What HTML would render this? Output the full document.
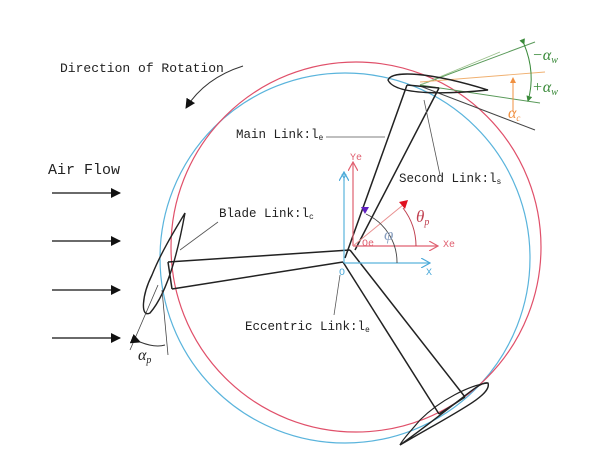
<!DOCTYPE html>
<html><head><style>
html,body{margin:0;padding:0;background:#fff;}
svg{display:block;}
text{font-family:"Liberation Mono",monospace;font-size:12.5px;fill:#222;}
</style></head><body>
<svg width="607" height="461" viewBox="0 0 607 461" xmlns="http://www.w3.org/2000/svg">
<defs>
<marker id="ab" markerWidth="10" markerHeight="10" refX="9" refY="5" orient="auto" markerUnits="userSpaceOnUse"><path d="M0,0 L10,5 L0,10 z" fill="#111"/></marker>
<marker id="ob" markerWidth="10" markerHeight="10" refX="9" refY="5" orient="auto" markerUnits="userSpaceOnUse"><path d="M0,0 L9,5 L0,10" fill="none" stroke="#4aa8d8" stroke-width="1.2"/></marker>
<marker id="or" markerWidth="10" markerHeight="10" refX="9" refY="5" orient="auto" markerUnits="userSpaceOnUse"><path d="M0,0 L9,5 L0,10" fill="none" stroke="#e06070" stroke-width="1.2"/></marker>
<marker id="ag" markerWidth="6" markerHeight="6" refX="5" refY="3" orient="auto" markerUnits="userSpaceOnUse"><path d="M0,0 L6,3 L0,6 z" fill="#3a8a3a"/></marker>
<marker id="ao" markerWidth="6" markerHeight="6" refX="5" refY="3" orient="auto" markerUnits="userSpaceOnUse"><path d="M0,0 L6,3 L0,6 z" fill="#f09040"/></marker>
</defs>
<circle cx="345" cy="258" r="185" fill="none" stroke="#5ab4dc" stroke-width="1.2"/>
<circle cx="356" cy="247" r="185" fill="none" stroke="#e0506a" stroke-width="1.2"/>

<path d="M243,66 Q205,78 186,108" fill="none" stroke="#333" stroke-width="1" marker-end="url(#ab)"/>
<text x="60" y="72" style="font-size:13px">Direction of Rotation</text>
<text x="48" y="174" style="font-size:15px">Air Flow</text>
<line x1="52" y1="193" x2="120" y2="193" stroke="#111" stroke-width="1.3" marker-end="url(#ab)"/>
<line x1="52" y1="241" x2="120" y2="241" stroke="#111" stroke-width="1.3" marker-end="url(#ab)"/>
<line x1="52" y1="290" x2="120" y2="290" stroke="#111" stroke-width="1.3" marker-end="url(#ab)"/>
<line x1="52" y1="338" x2="120" y2="338" stroke="#111" stroke-width="1.3" marker-end="url(#ab)"/>

<line x1="420" y1="85" x2="535" y2="42" stroke="#5a9a5a" stroke-width="1"/>
<line x1="420" y1="85" x2="500" y2="52" stroke="#9ac08a" stroke-width="0.8"/>
<line x1="420" y1="85" x2="540" y2="103" stroke="#5a9a5a" stroke-width="1"/>
<line x1="420" y1="82" x2="545" y2="72" stroke="#f0b070" stroke-width="0.9"/>
<line x1="420" y1="86" x2="535" y2="130" stroke="#444" stroke-width="1"/>
<path d="M524,44 Q536,73 528,101" fill="none" stroke="#3a8a3a" stroke-width="1" marker-start="url(#ag)" marker-end="url(#ag)"/>
<line x1="513" y1="112" x2="513" y2="78" stroke="#f09040" stroke-width="1" marker-end="url(#ao)"/>
<text x="532" y="60" style="fill:#3a8a3a;font-family:'Liberation Serif',serif;font-size:16px;font-style:italic">−α<tspan style="font-size:10px" dy="3">w</tspan></text>
<text x="532" y="92" style="fill:#3a8a3a;font-family:'Liberation Serif',serif;font-size:16px;font-style:italic">+α<tspan style="font-size:10px" dy="3">w</tspan></text>
<text x="508" y="118" style="fill:#f09040;font-family:'Liberation Serif',serif;font-size:16px;font-style:italic">α<tspan style="font-size:9px" dy="3">c</tspan></text>
<path d="M388,80 C392,70 430,72 488,90 C450,94 395,96 388,80 Z" fill="none" stroke="#222" stroke-width="1.4"/>

<path d="M185,213 C180,240 170,290 150,313 C140,318 142,295 152,275 C162,250 178,225 185,213 Z" fill="none" stroke="#222" stroke-width="1.4"/>
<line x1="158" y1="285" x2="130" y2="350" stroke="#444" stroke-width="0.8"/>
<line x1="162" y1="290" x2="168" y2="355" stroke="#444" stroke-width="0.8"/>
<path d="M140,342 Q155,348 165,345" fill="none" stroke="#333" stroke-width="1" marker-start="url(#ab)"/>
<text x="138" y="360" style="font-family:'Liberation Serif',serif;font-size:16px;font-style:italic">α<tspan style="font-size:10px" dy="3">p</tspan></text>

<path d="M488,383 C492,395 460,410 400,445 C460,402 480,380 488,383 Z" fill="none" stroke="#222" stroke-width="1.4"/>
<path d="M488,383 C470,385 440,400 420,420 C410,432 402,440 400,445" fill="none" stroke="#222" stroke-width="1.2"/>

<g stroke="#222" stroke-width="1.5" fill="none">
<line x1="407" y1="85" x2="345" y2="258"/>
<line x1="439" y1="88" x2="355" y2="250"/>
<line x1="407" y1="85" x2="439" y2="88"/>
<line x1="168" y1="262" x2="350" y2="250"/>
<line x1="172" y1="289" x2="343" y2="262"/>
<line x1="168" y1="262" x2="172" y2="289"/>
<line x1="343" y1="262" x2="439" y2="414"/>
<line x1="350" y1="250" x2="465" y2="397"/>
<line x1="439" y1="414" x2="465" y2="397"/>
</g>

<g stroke="#555" stroke-width="0.8">
<line x1="326" y1="137" x2="385" y2="137"/>
<line x1="424" y1="100" x2="440" y2="175"/>
<line x1="218" y1="222" x2="180" y2="250"/>
<line x1="340" y1="275" x2="334" y2="315"/>
</g>
<text x="236" y="138">Main Link:l<tspan style="font-size:8px" dy="2">e</tspan></text>
<text x="399" y="182">Second Link:l<tspan style="font-size:8px" dy="2">s</tspan></text>
<text x="219" y="217">Blade Link:l<tspan style="font-size:8px" dy="2">c</tspan></text>
<text x="245" y="330">Eccentric Link:l<tspan style="font-size:8px" dy="2">e</tspan></text>

<line x1="344" y1="263" x2="344" y2="172" stroke="#5ab4dc" stroke-width="1.2" marker-end="url(#ob)"/>
<line x1="344" y1="263" x2="430" y2="263" stroke="#5ab4dc" stroke-width="1.2" marker-end="url(#ob)"/>
<line x1="353" y1="246" x2="353" y2="162" stroke="#e06070" stroke-width="1.2" marker-end="url(#or)"/>
<line x1="353" y1="246" x2="438" y2="246" stroke="#e06070" stroke-width="1.2" marker-end="url(#or)"/>
<line x1="353" y1="246" x2="403" y2="205" stroke="#e89090" stroke-width="1"/>
<path d="M397,263 A53,53 0 0 0 366,214" fill="none" stroke="#444" stroke-width="0.9"/>
<path d="M416,246 A63,63 0 0 0 403,208" fill="none" stroke="#c04050" stroke-width="1"/>
<path d="M361,207 l8,0 l-4,7 z" fill="#6020c0"/>
<path d="M399,202 l9,-2 l-3,9 z" fill="#e01020"/>
<text x="341" y="181" style="fill:#4aa8d8;font-size:10px">Y</text>
<text x="350" y="160" style="fill:#e06070;font-size:10px">Ye</text>
<text x="362" y="246" style="fill:#e06070;font-size:10px">Oe</text>
<text x="339" y="275" style="fill:#4aa8d8;font-size:10px">O</text>
<text x="426" y="275" style="fill:#4aa8d8;font-size:10px">X</text>
<text x="443" y="247" style="fill:#e06070;font-size:10px">Xe</text>
<text x="384" y="240" style="fill:#8aa0c0;font-family:'Liberation Serif',serif;font-size:17px;font-style:italic">φ</text>
<text x="416" y="222" style="fill:#c04050;font-family:'Liberation Serif',serif;font-size:17px;font-style:italic">θ<tspan style="font-size:10px" dy="3">p</tspan></text>
</svg>
</body></html>
